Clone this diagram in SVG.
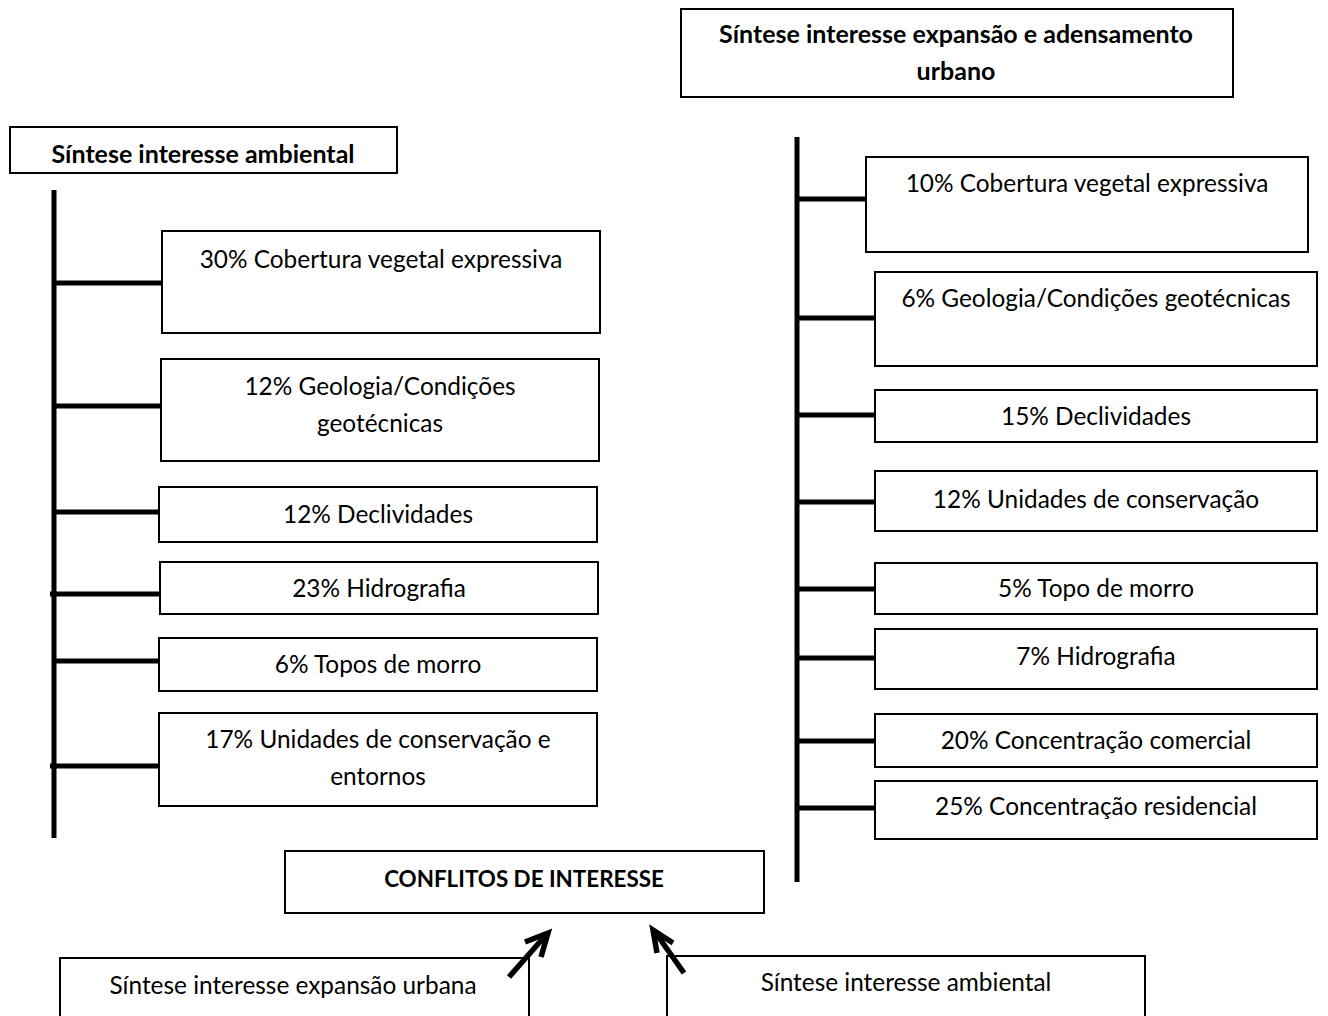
<svg xmlns="http://www.w3.org/2000/svg" width="1328" height="1016" viewBox="0 0 1328 1016">
<style>
.box{fill:#fff;stroke:#000;stroke-width:2}
.t{font-family:Lato,"Liberation Sans",sans-serif;font-size:24.4px;fill:#000;text-anchor:middle}
.b{font-weight:bold;font-size:25px}
.caps{font-size:22.4px}
.ln{stroke:#000;stroke-width:5;fill:none}
.ar{stroke:#000;stroke-width:5.5;fill:none;stroke-linecap:butt;stroke-linejoin:miter}
</style>
<rect width="1328" height="1016" fill="#fff"/>
<g id="connectors">
<line class="ln" x1="54" y1="190" x2="54" y2="838"/>
<line class="ln" x1="54" y1="283" x2="162" y2="283"/>
<line class="ln" x1="54" y1="406" x2="161" y2="406"/>
<line class="ln" x1="54" y1="512" x2="164" y2="512"/>
<line class="ln" x1="50" y1="594" x2="160" y2="594"/>
<line class="ln" x1="54" y1="661" x2="163" y2="661"/>
<line class="ln" x1="50" y1="766" x2="159" y2="766"/>
<line class="ln" x1="797" y1="137" x2="797" y2="882"/>
<line class="ln" x1="797" y1="199" x2="876" y2="199"/>
<line class="ln" x1="797" y1="318" x2="875" y2="318"/>
<line class="ln" x1="797" y1="415" x2="875" y2="415"/>
<line class="ln" x1="797" y1="502" x2="875" y2="502"/>
<line class="ln" x1="797" y1="589" x2="875" y2="589"/>
<line class="ln" x1="797" y1="658" x2="875" y2="658"/>
<line class="ln" x1="797" y1="741" x2="875" y2="741"/>
<line class="ln" x1="797" y1="808" x2="875" y2="808"/>
</g>
<g id="amb-header"><rect class="box" x="10" y="127" width="387" height="46"/><text class="t b" x="203" y="163">Síntese interesse ambiental</text></g>
<g id="amb-1"><rect class="box" x="162" y="231" width="438" height="102"/><text class="t" x="381" y="268">30% Cobertura vegetal expressiva</text></g>
<g id="amb-2"><rect class="box" x="161" y="359" width="438" height="102"/><text class="t" x="380" y="395">12% Geologia/Condições</text><text class="t" x="380" y="432">geotécnicas</text></g>
<g id="amb-3"><rect class="box" x="159" y="487" width="438" height="55"/><text class="t" x="378" y="523">12% Declividades</text></g>
<g id="amb-4"><rect class="box" x="160" y="562" width="438" height="52"/><text class="t" x="379" y="597">23% Hidrografia</text></g>
<g id="amb-5"><rect class="box" x="159" y="638" width="438" height="53"/><text class="t" x="378" y="673">6% Topos de morro</text></g>
<g id="amb-6"><rect class="box" x="159" y="713" width="438" height="93"/><text class="t" x="378" y="748">17% Unidades de conservação e</text><text class="t" x="378" y="785">entornos</text></g>
<g id="urb-header"><rect class="box" x="681" y="9" width="552" height="88"/><text class="t b" x="956" y="43">Síntese interesse expansão e adensamento</text><text class="t b" x="956" y="80">urbano</text></g>
<g id="urb-1"><rect class="box" x="866" y="157" width="442" height="95"/><text class="t" x="1087" y="192">10% Cobertura vegetal expressiva</text></g>
<g id="urb-2"><rect class="box" x="875" y="272" width="442" height="94"/><text class="t" x="1096" y="307">6% Geologia/Condições geotécnicas</text></g>
<g id="urb-3"><rect class="box" x="875" y="390" width="442" height="52"/><text class="t" x="1096" y="425">15% Declividades</text></g>
<g id="urb-4"><rect class="box" x="875" y="471" width="442" height="60"/><text class="t" x="1096" y="508">12% Unidades de conservação</text></g>
<g id="urb-5"><rect class="box" x="875" y="563" width="442" height="51"/><text class="t" x="1096" y="597">5% Topo de morro</text></g>
<g id="urb-6"><rect class="box" x="875" y="629" width="442" height="60"/><text class="t" x="1096" y="665">7% Hidrografia</text></g>
<g id="urb-7"><rect class="box" x="875" y="714" width="442" height="53"/><text class="t" x="1096" y="749">20% Concentração comercial</text></g>
<g id="urb-8"><rect class="box" x="875" y="781" width="442" height="58"/><text class="t" x="1096" y="815">25% Concentração residencial</text></g>
<g id="conflitos"><rect class="box" x="285" y="851" width="479" height="62"/><text class="t b caps" x="524" y="887">CONFLITOS DE INTERESSE</text></g>
<g id="sint-urb"><rect class="box" x="60" y="958" width="469" height="70"/><text class="t" x="293" y="994">Síntese interesse expansão urbana</text></g>
<g id="sint-amb"><rect class="box" x="667" y="956" width="478" height="70"/><text class="t" x="906" y="991">Síntese interesse ambiental</text></g>
<g id="arrows">
<line class="ar" x1="509" y1="977" x2="546" y2="935"/>
<path class="ar" d="M525,942 L548,933 L541,957"/>
<line class="ar" x1="684" y1="973" x2="655" y2="932"/>
<path class="ar" d="M673,943 L653,930 L657,953"/>
</g>
</svg>
